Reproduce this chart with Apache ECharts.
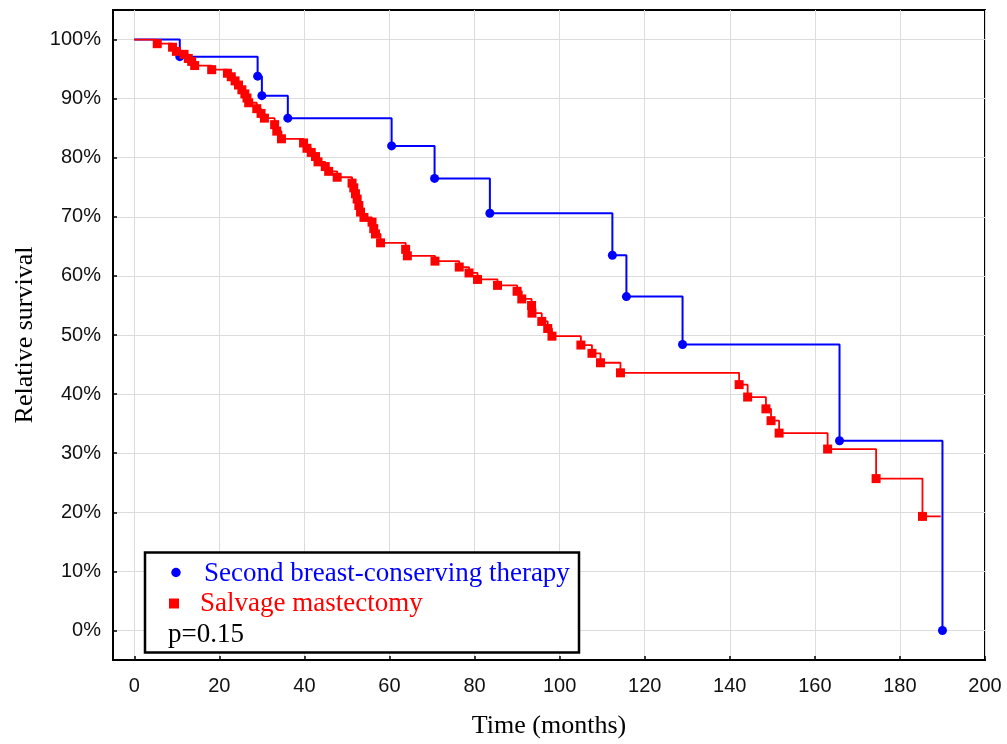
<!DOCTYPE html>
<html>
<head>
<meta charset="utf-8">
<script src="https://cdn.jsdelivr.net/npm/echarts@6/dist/echarts.min.js"></script>
<style>
html,body{margin:0;padding:0;background:#fff;}
#chart{width:1007px;height:744px;}
</style>
</head>
<body>
<div id="chart"></div>
<script>
// ---- data ----
const xTicks = [0, 20, 40, 60, 80, 100, 120, 140, 160, 180, 200];
const yTicks = [0, 10, 20, 30, 40, 50, 60, 70, 80, 90, 100];

const bctName = 'Second breast-conserving therapy';
const bctTimes = [0, 10.7, 29.0, 30.0, 36.1, 60.5, 70.6, 83.6, 112.4, 115.7, 128.9, 165.8, 190.0];
const bctSurv  = [100, 97.1, 93.8, 90.5, 86.7, 82.0, 76.5, 70.6, 63.5, 56.5, 48.4, 32.1, 0];

const smName = 'Salvage mastectomy';
const smTimes = [0, 5.4, 9.0, 9.9, 11.7, 12.7, 13.5, 14.2, 18.2, 21.9,
  22.8, 23.7, 24.5, 25.3, 26.0, 26.5, 26.9, 28.8, 29.8, 30.6,
  33.0, 33.5, 34.6, 39.8, 40.6, 41.6, 42.6, 43.2, 44.9, 45.7,
  47.7, 51.2, 51.6, 52.0, 52.4, 52.8, 53.2, 54.0, 55.9, 56.3,
  56.7, 57.9, 63.8, 64.2, 70.7, 76.4, 78.7, 80.7, 85.4, 90.0,
  91.1, 93.4, 93.5, 95.8, 97.2, 98.2, 105.0, 107.6, 109.6, 114.3,
  142.2, 144.2, 148.5, 149.7, 151.6, 163.0, 174.4, 185.3, 189.6];
const smSurv = [100, 99.3, 98.7, 98.0, 97.5, 96.8, 96.3, 95.6, 94.9, 94.3,
  93.7, 93.0, 92.3, 91.5, 90.8, 90.1, 89.3, 88.3, 87.5, 86.7,
  85.6, 84.5, 83.2, 82.5, 81.6, 80.9, 80.2, 79.3, 78.5, 77.7,
  76.7, 75.7, 74.9, 73.9, 73.0, 71.9, 70.8, 69.9, 69.1, 68.0,
  67.1, 65.6, 64.5, 63.4, 62.5, 61.5, 60.5, 59.4, 58.4, 57.4,
  56.1, 55.0, 53.7, 52.3, 51.1, 49.8, 48.3, 46.9, 45.3, 43.6,
  41.6, 39.5, 37.5, 35.5, 33.4, 30.7, 25.7, 19.3, 19.3];
const smCensoredEnd = true;
const pText = 'p=0.15';

// ---- build ----
function buildData(times, surv, noMarkerLast) {
  return times.map((t, i) => {
    const item = { value: [t, surv[i]] };
    if (i === 0 || (noMarkerLast && i === times.length - 1)) item.symbol = 'none';
    return item;
  });
}

const chart = echarts.init(document.getElementById('chart'), null, { renderer: 'canvas' });
const sans = 'Liberation Sans, Arial, sans-serif';
const serif = 'Liberation Serif, Times New Roman, serif';

chart.setOption({
  animation: false,
  backgroundColor: '#fff',
  grid: { left: 113, top: 10, right: 22, bottom: 81, show: true, borderColor: '#000', borderWidth: 2, containLabel: false },
  xAxis: {
    type: 'value', min: -5, max: 200,
    name: 'Time (months)', nameLocation: 'middle', nameGap: 53,
    nameTextStyle: { fontFamily: serif, fontSize: 26, color: '#000' },
    axisLine: { show: true, onZero: false, lineStyle: { color: '#000', width: 2 } },
    axisTick: { show: true, inside: true, length: 4, customValues: xTicks, lineStyle: { color: '#000', width: 1.5 } },
    axisLabel: { customValues: xTicks, fontFamily: sans, fontSize: 20, color: '#111', margin: 16 },
    splitLine: { show: true, lineStyle: { color: '#dcdcdc', width: 1 } }
  },
  yAxis: {
    type: 'value', min: -5, max: 105,
    name: 'Relative survival', nameLocation: 'middle', nameGap: 75,
    nameTextStyle: { fontFamily: serif, fontSize: 26, color: '#000' },
    axisLine: { show: true, onZero: false, lineStyle: { color: '#000', width: 2 } },
    axisTick: { show: true, inside: true, length: 4, customValues: yTicks, lineStyle: { color: '#000', width: 1.5 } },
    axisLabel: { customValues: yTicks, formatter: '{value}%', fontFamily: sans, fontSize: 20, color: '#111', margin: 12 },
    splitLine: { show: true, lineStyle: { color: '#dcdcdc', width: 1 } }
  },
  series: [
    {
      name: bctName, type: 'line', step: 'end',
      data: buildData(bctTimes, bctSurv, false),
      symbol: 'circle', symbolSize: 9, showSymbol: true,
      lineStyle: { color: '#0000ff', width: 2 },
      itemStyle: { color: '#0000ff' },
      z: 2
    },
    {
      name: smName, type: 'line', step: 'end',
      data: buildData(smTimes, smSurv, smCensoredEnd),
      symbol: 'rect', symbolSize: 9, showSymbol: true,
      lineStyle: { color: '#ff0000', width: 1.8 },
      itemStyle: { color: '#ff0000' },
      z: 3
    }
  ],
  graphic: [
    { type: 'rect', z: 100, shape: { x: 145, y: 552.5, width: 434, height: 100 },
      style: { fill: '#fff', stroke: '#000', lineWidth: 2.5 } },
    { type: 'circle', z: 101, shape: { cx: 176, cy: 572.5, r: 4.7 }, style: { fill: '#0000ff' } },
    { type: 'rect', z: 101, shape: { x: 169, y: 598.5, width: 10, height: 10 }, style: { fill: '#ff0000' } },
    { type: 'text', z: 101, x: 204, y: 574, style: { text: bctName, font: '27px ' + serif, fill: '#0000ff', verticalAlign: 'middle' } },
    { type: 'text', z: 101, x: 200, y: 604, style: { text: smName, font: '27px ' + serif, fill: '#ff0000', verticalAlign: 'middle' } },
    { type: 'text', z: 101, x: 168, y: 635, style: { text: pText, font: '27px ' + serif, fill: '#000', verticalAlign: 'middle' } }
  ]
});
</script>
</body>
</html>
